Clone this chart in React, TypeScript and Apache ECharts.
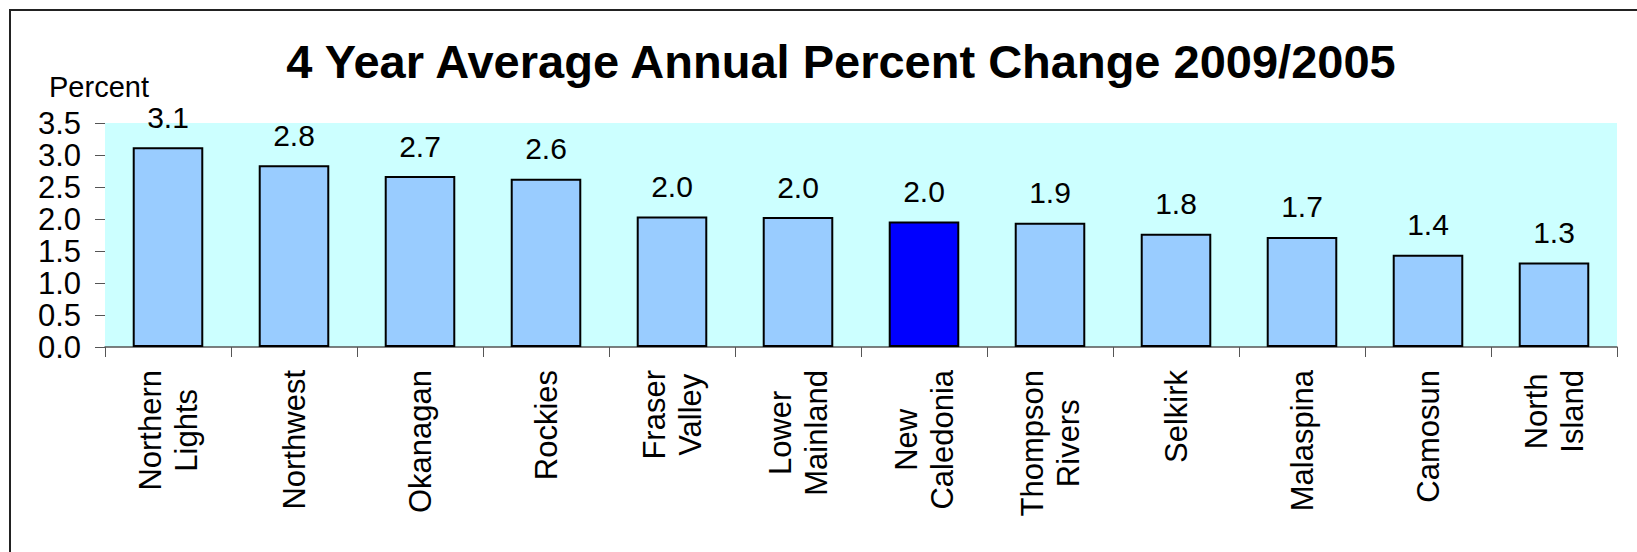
import React, { useEffect, useRef } from "react";
import * as echarts from "echarts";

const categories = [
  "Northern\nLights",
  "Northwest",
  "Okanagan",
  "Rockies",
  "Fraser\nValley",
  "Lower\nMainland",
  "New\nCaledonia",
  "Thompson\nRivers",
  "Selkirk",
  "Malaspina",
  "Camosun",
  "North\nIsland",
];
const values = [3.12, 2.84, 2.67, 2.63, 2.04, 2.03, 1.96, 1.94, 1.77, 1.72, 1.44, 1.32];
const highlighted = "New\nCaledonia";
const yTicks = { min: 0, max: 3.5, interval: 0.5 };
const titleText = "4 Year Average Annual Percent Change 2009/2005";
const yName = "Percent";

const FONT = "'Liberation Sans', Arial, sans-serif";

export default function App() {
  const ref = useRef<HTMLDivElement>(null);
  useEffect(() => {
    if (!ref.current) return;
    const chart = echarts.init(ref.current, null, { renderer: "svg" });
    chart.setOption({
      animation: false,
      backgroundColor: "#ffffff",
      title: [
        {
          text: titleText,
          left: 841,
          top: 38,
          textAlign: "center",
          padding: 0,
          textStyle: { fontFamily: FONT, fontSize: 47, fontWeight: "bold", color: "#000" },
        },
        {
          text: yName,
          left: 49,
          top: 72,
          padding: 0,
          textStyle: { fontFamily: FONT, fontSize: 29, fontWeight: "normal", color: "#000" },
        },
      ],
      graphic: [
        { type: "line", shape: { x1: 9, y1: 10, x2: 1637, y2: 10 }, style: { stroke: "#222", lineWidth: 2 } },
        { type: "line", shape: { x1: 10, y1: 9, x2: 10, y2: 552 }, style: { stroke: "#222", lineWidth: 2 } },
      ],
      grid: {
        left: 105,
        right: 20,
        top: 123,
        bottom: 205,
        show: true,
        backgroundColor: "#CCFFFF",
        borderWidth: 0,
      },
      xAxis: {
        type: "category",
        data: categories,
        axisLine: { show: true, lineStyle: { color: "#555", width: 1.5 } },
        axisTick: { show: true, length: 10, lineStyle: { color: "#555" } },
        axisLabel: {
          interval: 0,
          rotate: 90,
          margin: 23,
          color: "#000",
          fontFamily: FONT,
          fontSize: 31,
          lineHeight: 36,
          formatter: (v: string) => v.split("\n").map((s) => `{c|${s}}`).join("\n"),
          rich: { c: { align: "center", fontFamily: FONT, fontSize: 31, lineHeight: 36, color: "#000" } },
        },
      },
      yAxis: {
        type: "value",
        min: yTicks.min,
        max: yTicks.max,
        interval: yTicks.interval,
        splitLine: { show: false },
        axisLine: { show: false },
        axisTick: { show: true, length: 10, lineStyle: { color: "#555" } },
        axisLabel: {
          margin: 24,
          color: "#000",
          fontFamily: FONT,
          fontSize: 31,
          formatter: (v: number) => v.toFixed(1),
        },
      },
      series: [
        {
          type: "bar",
          barCategoryGap: "44%",
          data: values.map((v, i) => ({
            value: v,
            itemStyle: { color: categories[i] === highlighted ? "#0000FF" : "#99CCFF" },
          })),
          itemStyle: { borderColor: "#000", borderWidth: 2 },
          label: {
            show: true,
            position: "top",
            distance: 15,
            color: "#000",
            fontFamily: FONT,
            fontSize: 30,
            formatter: (p: any) => Number(p.value).toFixed(1),
          },
        },
      ],
    });
    return () => chart.dispose();
  }, []);
  return (
    <div
      ref={ref}
      style={{ position: "fixed", left: 0, top: 0, width: 1637, height: 552 }}
    />
  );
}
